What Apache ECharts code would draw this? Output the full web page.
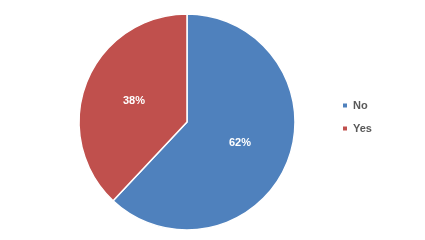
<!DOCTYPE html>
<html><head><meta charset="utf-8">
<script src="https://cdn.jsdelivr.net/npm/echarts@6/dist/echarts.min.js"></script>
<style>html,body{margin:0;padding:0;background:#fff}#c{width:425px;height:240px}</style>
</head><body><div id="c"></div>
<script>
var categories = ['No', 'Yes'];
var values = [62, 38];
var colors = ['#4F81BD', '#C0504D'];

var chart = echarts.init(document.getElementById('c'), null, {renderer: 'canvas'});
chart.setOption({
  animation: false,
  color: colors,
  legend: {
    orient: 'vertical',
    left: 336, top: 95,
    itemWidth: 6, itemHeight: 6, itemGap: 12,
    icon: 'rect',
    textStyle: {fontFamily: 'Liberation Sans, Arial', fontSize: 11, fontWeight: 'bold', color: '#595959'},
    data: categories
  },
  series: [{
    type: 'pie',
    center: [187, 122],
    radius: [0, 108],
    startAngle: 90,
    clockwise: true,
    silent: true,
    itemStyle: {borderColor: '#fff', borderWidth: 1.5},
    label: {
      position: 'inside',
      formatter: function(p){ return p.value + '%'; },
      color: '#fff', fontWeight: 'bold', fontSize: 11,
      fontFamily: 'Liberation Sans, Arial'
    },
    labelLine: {show: false},
    data: categories.map(function(c, i){ return {name: c, value: values[i]}; })
  }]
});
</script></body></html>
